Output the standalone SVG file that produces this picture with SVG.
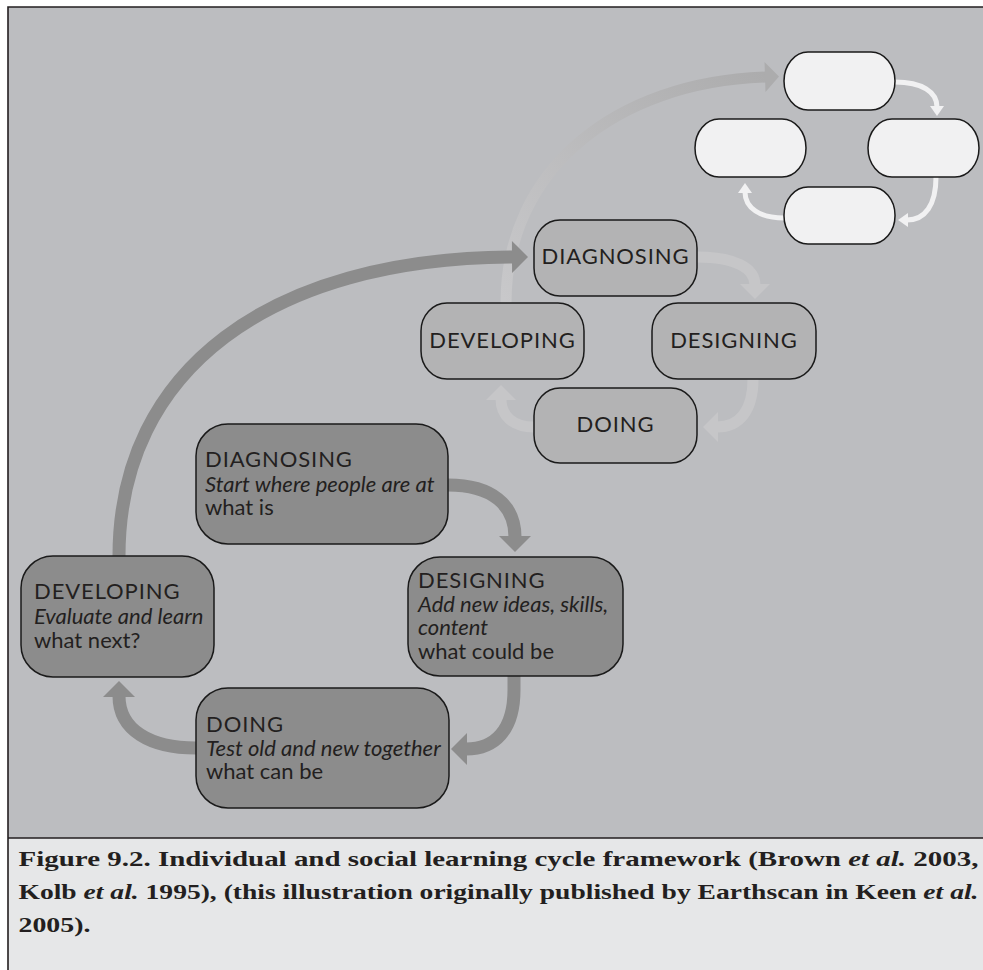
<svg xmlns="http://www.w3.org/2000/svg" width="983" height="970" viewBox="0 0 983 970">
  <style>
    .frame { stroke: #231f20; stroke-width: 1.6; }
    .node { stroke: #1a1a1a; stroke-width: 1.5; }
    .dark { fill: #8c8c8c; }
    .mid { fill: #b3b3b4; }
    .pale { fill: #f1f1f2; }
    .lbl { font-family: Lato, "Open Sans", "Liberation Sans", sans-serif; font-size: 22px; fill: #231f20; }
    .caps { letter-spacing: 0.9px; }
    .it { font-style: italic; }
    .ctr { text-anchor: middle; }
    .cap { font-family: "Liberation Serif", "DejaVu Serif", serif; font-weight: bold; font-size: 22px; fill: #231f20; }
    .arr { fill: none; }
    .a-dark { stroke: #8c8c8c; stroke-width: 13; }
    .a-mid { stroke: #c6c6c8; stroke-width: 11; }
    .a-white { stroke: #f1f1f2; stroke-width: 5; }
  </style>
  <defs>
    <marker id="hd-dark" markerUnits="userSpaceOnUse" viewBox="0 -17 17 34" markerWidth="17" markerHeight="34" refX="1" refY="0" orient="auto" overflow="visible">
      <path d="M0,-16 L16,0 L0,16 z" fill="#8c8c8c"/>
    </marker>
    <marker id="hd-mid" markerUnits="userSpaceOnUse" viewBox="0 -16 16 32" markerWidth="16" markerHeight="32" refX="1" refY="0" orient="auto" overflow="visible">
      <path d="M0,-15 L15,0 L0,15 z" fill="#c6c6c8"/>
    </marker>
    <marker id="hd-fade" markerUnits="userSpaceOnUse" viewBox="0 -16 16 32" markerWidth="16" markerHeight="32" refX="1" refY="0" orient="auto" overflow="visible">
      <path d="M0,-15 L14,0 L0,15 z" fill="#acacad"/>
    </marker>
    <marker id="hd-white" markerUnits="userSpaceOnUse" viewBox="0 -8 11 16" markerWidth="11" markerHeight="16" refX="1" refY="0" orient="auto" overflow="visible">
      <path d="M0,-7 L10,0 L0,7 z" fill="#f1f1f2"/>
    </marker>
    <linearGradient id="fade" gradientUnits="userSpaceOnUse" x1="506" y1="303" x2="767" y2="77">
      <stop offset="0" stop-color="#c8c8ca"/>
      <stop offset="1" stop-color="#acacad"/>
    </linearGradient>
  </defs>

  <!-- page and frame -->
  <rect x="0" y="0" width="983" height="970" fill="#ffffff"/>
  <rect x="8" y="7" width="985" height="831" fill="#bcbdc0"/>
  <rect x="8" y="838" width="985" height="140" fill="#e6e7e8"/>
  <path class="frame" fill="none" d="M983,7 H8 V970 M8,838 H983"/>

  <!-- connectors -->
  <g id="connectors">
    <!-- transition arc from the middle cycle to the upper cycle -->
    <path class="arr" d="M506,303 C506,170 615,82 766,77" stroke="url(#fade)" stroke-width="11" marker-end="url(#hd-fade)"/>
    <!-- upper cycle -->
    <path class="arr a-white" d="M895,82 C922,82 937,92 937,107" marker-end="url(#hd-white)"/>
    <path class="arr a-white" d="M936,177 C936,205 925,220 907,220" marker-end="url(#hd-white)"/>
    <path class="arr a-white" d="M784,218 C760,218 745,208 745,192" marker-end="url(#hd-white)"/>
    <!-- middle cycle -->
    <path class="arr a-mid" d="M697,257 C735,257 755,268 755,285" marker-end="url(#hd-mid)"/>
    <path class="arr a-mid" d="M753,379 C753,410 740,427 717,427" marker-end="url(#hd-mid)"/>
    <path class="arr a-mid" d="M534,427 C512,427 501,415 501,399" marker-end="url(#hd-mid)"/>
    <!-- lower cycle -->
    <path class="arr a-dark" d="M448,485 C492,485 515,505 515,537" marker-end="url(#hd-dark)"/>
    <path class="arr a-dark" d="M514,676 L514,690 C514,730 495,749 466,749" marker-end="url(#hd-dark)"/>
    <path class="arr a-dark" d="M196,748 C150,748 119,730 119,696" marker-end="url(#hd-dark)"/>
    <!-- transition arc from the lower cycle to the middle cycle -->
    <path class="arr a-dark" d="M119,556 C119,370 270,258 513,257" marker-end="url(#hd-dark)"/>
  </g>

  <!-- upper cycle (blank) -->
  <g id="up-top"><rect class="node pale" x="784" y="52" width="111" height="58" rx="24" ry="29"/></g>
  <g id="up-left"><rect class="node pale" x="695" y="119" width="111" height="58" rx="24" ry="29"/></g>
  <g id="up-right"><rect class="node pale" x="868" y="119" width="111" height="58" rx="24" ry="29"/></g>
  <g id="up-bottom"><rect class="node pale" x="784" y="187" width="111" height="57" rx="24" ry="28"/></g>

  <!-- middle cycle -->
  <g id="mid-diagnosing">
    <rect class="node mid" x="534" y="220" width="163" height="76" rx="26" ry="28"/>
    <text class="lbl caps ctr" x="615.5" y="264">DIAGNOSING</text>
  </g>
  <g id="mid-developing">
    <rect class="node mid" x="421" y="303" width="163" height="76" rx="26" ry="28"/>
    <text class="lbl caps ctr" x="502.5" y="348">DEVELOPING</text>
  </g>
  <g id="mid-designing">
    <rect class="node mid" x="652" y="303" width="164" height="76" rx="26" ry="28"/>
    <text class="lbl caps ctr" x="734" y="348">DESIGNING</text>
  </g>
  <g id="mid-doing">
    <rect class="node mid" x="534" y="388" width="163" height="75" rx="26" ry="28"/>
    <text class="lbl caps ctr" x="615.5" y="432">DOING</text>
  </g>

  <!-- lower cycle -->
  <g id="low-diagnosing">
    <rect class="node dark" x="196" y="424" width="252" height="120" rx="32" ry="32"/>
    <text class="lbl caps" x="205" y="467">DIAGNOSING</text>
    <text class="lbl it" x="205" y="492">Start where people are at</text>
    <text class="lbl" x="205" y="515">what is</text>
  </g>
  <g id="low-designing">
    <rect class="node dark" x="408" y="557" width="215" height="119" rx="32" ry="32"/>
    <text class="lbl caps" x="418" y="588">DESIGNING</text>
    <text class="lbl it" x="418" y="612">Add new ideas, skills,</text>
    <text class="lbl it" x="418" y="635">content</text>
    <text class="lbl" x="418" y="659">what could be</text>
  </g>
  <g id="low-developing">
    <rect class="node dark" x="21" y="556" width="193" height="121" rx="32" ry="32"/>
    <text class="lbl caps" x="34" y="599">DEVELOPING</text>
    <text class="lbl it" x="34" y="624">Evaluate and learn</text>
    <text class="lbl" x="34" y="648">what next?</text>
  </g>
  <g id="low-doing">
    <rect class="node dark" x="196" y="688" width="253" height="120" rx="32" ry="32"/>
    <text class="lbl caps" x="206" y="732">DOING</text>
    <text class="lbl it" x="206" y="756">Test old and new together</text>
    <text class="lbl" x="206" y="779">what can be</text>
  </g>

  <!-- caption -->
  <g id="caption">
    <text class="cap" x="18.5" y="866" textLength="960" lengthAdjust="spacingAndGlyphs">Figure 9.2. Individual and social learning cycle framework (Brown <tspan font-style="italic">et al.</tspan> 2003,</text>
    <text class="cap" x="18.5" y="899" textLength="960" lengthAdjust="spacingAndGlyphs">Kolb <tspan font-style="italic">et al.</tspan> 1995), (this illustration originally published by Earthscan in Keen <tspan font-style="italic">et al.</tspan></text>
    <text class="cap" x="18.5" y="932" textLength="72" lengthAdjust="spacingAndGlyphs">2005).</text>
  </g>
</svg>
